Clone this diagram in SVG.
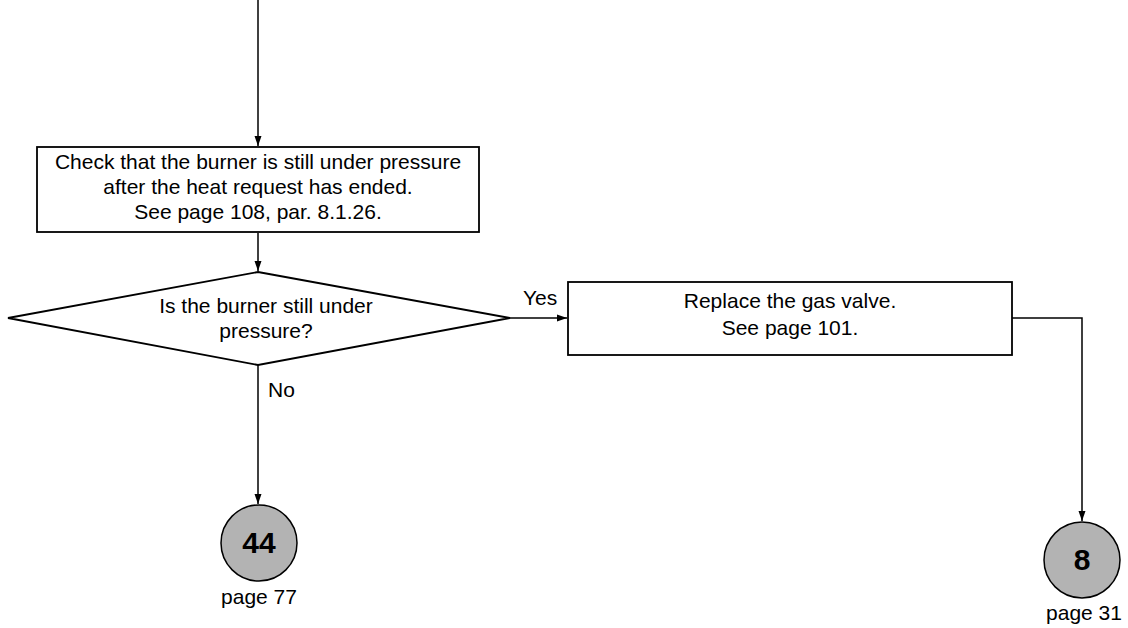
<svg xmlns="http://www.w3.org/2000/svg" width="1128" height="628" viewBox="0 0 1128 628">
<style>
.box{fill:#fff;stroke:#000;stroke-width:1.8}
.t{font-family:"Liberation Sans",Arial,sans-serif;font-size:21px;fill:#000;text-anchor:middle}
.n{font-family:"Liberation Sans",Arial,sans-serif;font-size:30px;font-weight:bold;fill:#000;text-anchor:middle}
.c{fill:#b3b3b3;stroke:#000;stroke-width:1.5}
.l{fill:none;stroke:#000;stroke-width:1.5}
</style>
<defs>
<marker id="a" markerWidth="10" markerHeight="16" refX="10" refY="5" orient="auto" markerUnits="userSpaceOnUse" viewBox="0 0 10 10">
<path d="M0,1.5 L10,5 L0,8.5 z" fill="#000"/>
</marker>
</defs>
<g id="connectors">
<path class="l" d="M258,0 V146" marker-end="url(#a)"/>
<path class="l" d="M258,233 V271" marker-end="url(#a)"/>
<path class="l" d="M510,318 H567" marker-end="url(#a)"/>
<path class="l" d="M258,365 V504" marker-end="url(#a)"/>
<path class="l" d="M1012,318 H1082 V521" marker-end="url(#a)"/>
<text class="t" x="523" y="305" style="text-anchor:start">Yes</text>
<text class="t" x="268" y="397" style="text-anchor:start">No</text>
</g>
<g id="check">
<rect class="box" x="37" y="147" width="442" height="85"/>
<text class="t" x="258" y="169">Check that the burner is still under pressure</text>
<text class="t" x="258" y="194">after the heat request has ended.</text>
<text class="t" x="258" y="219">See page 108, par. 8.1.26.</text>
</g>
<g id="decision">
<polygon class="box" points="258,272 510,318 258,365 8,318"/>
<text class="t" x="266" y="313">Is the burner still under</text>
<text class="t" x="266" y="338">pressure?</text>
</g>
<g id="replace">
<rect class="box" x="568" y="282" width="444" height="73"/>
<text class="t" x="790" y="308">Replace the gas valve.</text>
<text class="t" x="790" y="335">See page 101.</text>
</g>
<g id="c44">
<circle class="c" cx="259" cy="543" r="38"/>
<text class="n" x="259" y="553">44</text>
<text class="t" x="259" y="604">page 77</text>
</g>
<g id="c8">
<circle class="c" cx="1082" cy="560" r="38"/>
<text class="n" x="1082" y="570">8</text>
<text class="t" x="1084" y="620">page 31</text>
</g>
</svg>
